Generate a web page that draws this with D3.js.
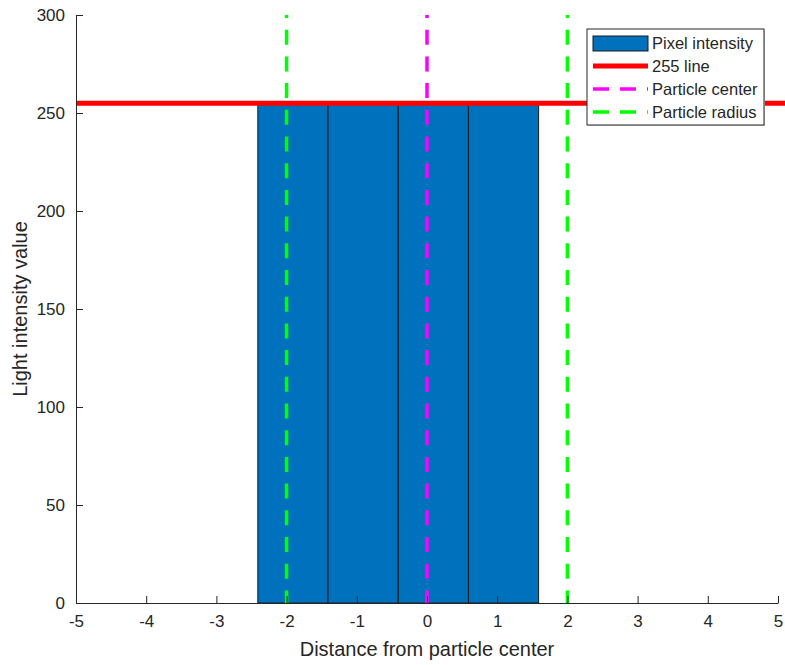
<!DOCTYPE html>
<html lang="en">
<head>
<meta charset="UTF-8">
<title>Pixel intensity</title>
<script src="https://cdnjs.cloudflare.com/ajax/libs/d3/7.8.5/d3.min.js"></script>
<style>
  body { margin: 0; background: #fff; }
  text { font-family: "Liberation Sans", Arial, sans-serif; }
</style>
</head>
<body>
<div id="chart"></div>
<script>
// data
const pixelCenters = [-3.91, -2.91, -1.91, -0.91, 0.09, 1.09];
const pixelValues = [0, 0, 255, 255, 255, 255];
const refValue = 255;
const centerX = [0];
const radiusX = [-2, 2];
const xTicks = [-5, -4, -3, -2, -1, 0, 1, 2, 3, 4, 5];
const yTicks = [0, 50, 100, 150, 200, 250, 300];

const W = 785, H = 665;
const mLeft = 76, mRight = 778, mTop = 15, mBottom = 603;

const svg = d3.select('#chart').append('svg')
  .attr('width', W).attr('height', H);

const x = d3.scaleLinear().domain([-5, 5]).range([mLeft, mRight]);
const y = d3.scaleLinear().domain([0, 300]).range([mBottom, mTop]);

// bars (width 1)
svg.selectAll('rect.bar')
  .data(pixelCenters)
  .enter().append('rect')
  .attr('class', 'bar')
  .attr('x', d => x(d - 0.5))
  .attr('width', d => x(d + 0.5) - x(d - 0.5))
  .attr('y', (d, i) => y(pixelValues[i]))
  .attr('height', (d, i) => y(0) - y(pixelValues[i]))
  .attr('fill', '#0072BD')
  .attr('stroke', '#1a1a1a')
  .attr('stroke-width', 1);

// 255 line
svg.append('line')
  .attr('x1', x(-5)).attr('x2', x(5) + 7)
  .attr('y1', y(refValue)).attr('y2', y(refValue))
  .attr('stroke', '#ff0000').attr('stroke-width', 5);

// dashed vertical lines (drawn top to bottom)
function vline(v, color) {
  svg.append('line')
    .attr('x1', x(v)).attr('x2', x(v))
    .attr('y1', y(300)).attr('y2', y(0))
    .attr('stroke', color).attr('stroke-width', 3.5)
    .attr('stroke-dasharray', '15,11.7')
    .attr('stroke-dashoffset', 12);
}
centerX.forEach(v => vline(v, '#ff00ff'));
radiusX.forEach(v => vline(v, '#00ff00'));

// axes
const fmt = d => String(d);
const xAxis = d3.axisBottom(x).tickValues(xTicks).tickFormat(fmt).tickSize(-7).tickPadding(12).tickSizeOuter(0);
const yAxis = d3.axisLeft(y).tickValues(yTicks).tickFormat(fmt).tickSize(-7).tickPadding(11).tickSizeOuter(0);

const gx = svg.append('g').attr('transform', `translate(0,${mBottom})`).call(xAxis);
const gy = svg.append('g').attr('transform', `translate(${mLeft},0)`).call(yAxis);
[gx, gy].forEach(g => {
  g.select('.domain').attr('stroke', '#262626');
  g.selectAll('.tick line').attr('stroke', '#262626');
  g.selectAll('.tick text').attr('fill', '#262626').style('font-size', '17px');
});
gx.selectAll('.tick text').attr('dy', '0.71em');

svg.append('text')
  .attr('x', (mLeft + mRight) / 2).attr('y', 656)
  .attr('text-anchor', 'middle')
  .attr('fill', '#262626').style('font-size', '20px')
  .text('Distance from particle center');

svg.append('text')
  .attr('transform', `translate(27,${(mTop + mBottom) / 2}) rotate(-90)`)
  .attr('text-anchor', 'middle')
  .attr('fill', '#262626').style('font-size', '20px')
  .text('Light intensity value');

// legend
const legendItems = ['Pixel intensity', '255 line', 'Particle center', 'Particle radius'];
const lg = svg.append('g').attr('transform', 'translate(587,29)');
lg.append('rect').attr('x', 1).attr('y', 1).attr('width', 177).attr('height', 96).attr('fill', '#d0d0d0');
lg.append('rect').attr('width', 177).attr('height', 96)
  .attr('fill', '#fff').attr('stroke', '#262626').attr('stroke-width', 1);

legendItems.forEach((name, i) => {
  const cy = 14 + i * 23;
  if (i === 0) {
    lg.append('rect').attr('x', 6).attr('y', cy - 7).attr('width', 55).attr('height', 15)
      .attr('fill', '#0072BD').attr('stroke', '#1a1a1a');
  } else if (i === 1) {
    lg.append('line').attr('x1', 6).attr('x2', 61).attr('y1', cy).attr('y2', cy)
      .attr('stroke', '#ff0000').attr('stroke-width', 5);
  } else {
    lg.append('line').attr('x1', 6).attr('x2', 61).attr('y1', cy).attr('y2', cy)
      .attr('stroke', i === 2 ? '#ff00ff' : '#00ff00').attr('stroke-width', 3.5)
      .attr('stroke-dasharray', '16,11');
  }
  lg.append('text').attr('x', 65).attr('y', cy).attr('dy', '0.35em')
    .attr('fill', '#262626').style('font-size', '16.5px').text(name);
});
</script>
</body>
</html>
